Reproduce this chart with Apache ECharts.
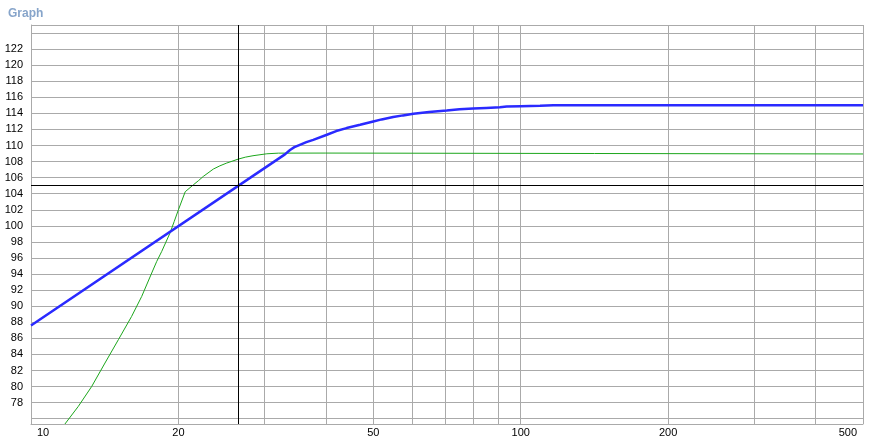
<!DOCTYPE html>
<html><head><meta charset="utf-8">
<script src="https://cdn.jsdelivr.net/npm/echarts@6/dist/echarts.min.js"></script>
<style>html,body{margin:0;padding:0;background:#fff}#c{width:869px;height:444px}</style>
</head><body><div id="c"></div><script>
const titleText = 'Graph';
const xTickValues = [10, 20, 30, 40, 50, 60, 70, 80, 90, 100, 200, 300, 400, 500];
const xLabelValues = [10, 20, 50, 100, 200, 500];
const yLabelMin = 78, yLabelMax = 122;
const blueFreq  = [10, 33, 33.8, 34.5, 35.4, 36.5, 37.7, 40.2, 42, 44.1, 47.0, 50, 52, 54.9, 57.5, 60.4, 65, 70.6, 75, 80, 85, 90.7, 93.6, 100, 109.5, 116.6, 500];
const blueLevel = [87.6, 108.9, 109.45, 109.8, 110.09, 110.42, 110.71, 111.34, 111.8, 112.17, 112.58, 113.0, 113.25, 113.54, 113.75, 113.95, 114.17, 114.36, 114.5, 114.6, 114.68, 114.75, 114.86, 114.9, 114.95, 115.0, 115.0];
const greenFreq  = [11.73, 12.49, 13.3, 14.16, 15.08, 16.05, 16.83, 17.64, 18.06, 18.49, 19.22, 19.61, 20.0, 20.65, 21.45, 22.0, 22.48, 23.57, 24.3, 25.1, 26.5, 27.4, 28.4, 30.3, 32, 40, 40.1, 500];
const greenLevel = [75.34, 77.53, 80.0, 82.93, 85.83, 88.73, 91.22, 94.13, 95.57, 96.82, 99.1, 100.55, 102.0, 104.25, 105.1, 105.65, 106.15, 107.07, 107.47, 107.82, 108.31, 108.55, 108.73, 108.97, 109.05, 109.06, 108.95, 108.95];
const cursorFreq = 26.5, cursorLevel = 105;

const zip = (a, b) => a.map((v, i) => [v, b[i]]);
const gridColor = '#aaaaaa';
const font = 'Liberation Sans, Arial, sans-serif';

const chart = echarts.init(document.getElementById('c'), null, {renderer: 'canvas'});
chart.setOption({
  animation: false,
  backgroundColor: '#ffffff',
  title: {
    text: titleText, left: 3, top: 3,
    textStyle: {fontSize: 12, fontWeight: 'bold', color: '#86a4ca', fontFamily: font}
  },
  grid: {left: 31, right: 6, top: 25, bottom: 20, containLabel: false},
  xAxis: {
    type: 'log', logBase: 10, min: 10, max: 500,
    axisLine: {show: true, lineStyle: {color: gridColor, width: 1}},
    axisTick: {show: false, customValues: xTickValues},
    splitLine: {show: true, lineStyle: {color: gridColor, width: 1}},
    axisLabel: {
      customValues: xLabelValues, margin: 3, color: '#000', fontSize: 11, fontFamily: font,
      alignMinLabel: 'left', alignMaxLabel: 'right', padding: [0, 6, 0, 6]
    }
  },
  yAxis: {
    type: 'value', min: 75.34, max: 125, splitNumber: 25, minInterval: 2, maxInterval: 2,
    axisLine: {show: true, lineStyle: {color: gridColor, width: 1}},
    axisTick: {show: false},
    splitLine: {show: true, lineStyle: {color: gridColor, width: 1}},
    axisLabel: {
      margin: 8, color: '#000', fontSize: 11, fontFamily: font,
      formatter: v => (v >= yLabelMin && v <= yLabelMax && Math.abs(v % 2) < 1e-6) ? String(Math.round(v)) : ''
    }
  },
  series: [
    {
      type: 'line', data: zip(greenFreq, greenLevel), showSymbol: false, symbol: 'none',
      lineStyle: {color: '#1ca61c', width: 1}, z: 3, silent: true
    },
    {
      type: 'line', data: zip(blueFreq, blueLevel), showSymbol: false, symbol: 'none',
      lineStyle: {color: '#2a2aff', width: 2.5}, z: 4, silent: true,
      markLine: {
        silent: true, symbol: 'none', label: {show: false},
        lineStyle: {color: '#000', width: 1, type: 'solid'},
        data: [{xAxis: cursorFreq}, {yAxis: cursorLevel}]
      }
    }
  ]
});
</script></body></html>
